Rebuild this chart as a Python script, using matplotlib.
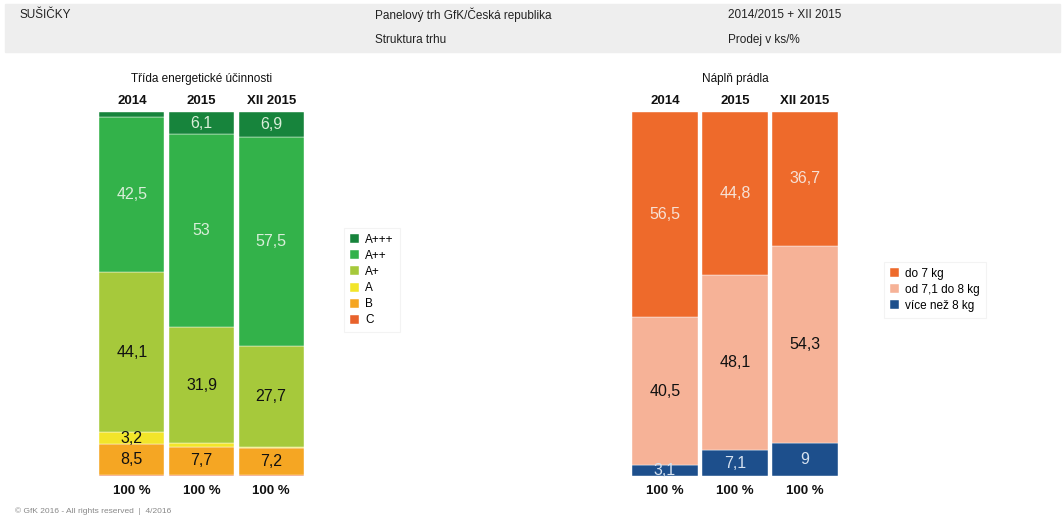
import matplotlib.pyplot as plt
from matplotlib.patches import Rectangle
import numpy as np

plt.rcParams['font.family'] = ['Liberation Sans', 'DejaVu Sans']

years = ['2014', '2015', 'XII 2015']

# energeticka trida (od spodu nahoru)
eff_classes = ['C', 'B', 'A', 'A+', 'A++', 'A+++']
eff_values = {
    'C':    [0.3, 0.4, 0.4],
    'B':    [8.5, 7.7, 7.2],
    'A':    [3.2, 0.9, 0.3],
    'A+':   [44.1, 31.9, 27.7],
    'A++':  [42.5, 53.0, 57.5],
    'A+++': [1.4, 6.1, 6.9],
}
eff_labels = {
    'B':    ['8,5', '7,7', '7,2'],
    'A':    ['3,2', '', ''],
    'A+':   ['44,1', '31,9', '27,7'],
    'A++':  ['42,5', '53', '57,5'],
    'A+++': ['', '6,1', '6,9'],
}
eff_colors = {'C': '#e8622c', 'B': '#f5a623', 'A': '#f2e52a', 'A+': '#a6c93b',
              'A++': '#33b24a', 'A+++': '#17843c'}
eff_txt = {'B': '#111111', 'A': '#111111', 'A+': '#111111', 'A++': '#d9eed9', 'A+++': '#d9eed9'}

# napln pradla (od spodu nahoru)
load_classes = ['více než 8 kg', 'od 7,1 do 8 kg', 'do 7 kg']
load_values = {
    'více než 8 kg':  [3.1, 7.1, 9.0],
    'od 7,1 do 8 kg': [40.5, 48.1, 54.3],
    'do 7 kg':        [56.5, 44.8, 36.7],
}
load_labels = {
    'více než 8 kg':  ['3,1', '7,1', '9'],
    'od 7,1 do 8 kg': ['40,5', '48,1', '54,3'],
    'do 7 kg':        ['56,5', '44,8', '36,7'],
}
load_colors = {'do 7 kg': '#ee6a2b', 'od 7,1 do 8 kg': '#f6b297', 'více než 8 kg': '#1d4f8c'}
load_txt = {'do 7 kg': '#f7e0d4', 'od 7,1 do 8 kg': '#111111', 'více než 8 kg': '#d6e2f0'}

W, H = 1064, 520
fig = plt.figure(figsize=(W / 100, H / 100), dpi=100)


def px(x, y):
    return x / W, 1 - y / H


# hlavicka
fig.patches.append(Rectangle((5 / W, 1 - 52 / H), 1055 / W, 48 / H,
                             transform=fig.transFigure, color='#eeeeee', zorder=0))
hdr = dict(fontsize=8.5, color='#222222', va='center', ha='left')
fig.text(*px(20, 15), 'SUŠIČKY', **hdr)
fig.text(*px(375, 15), 'Panelový trh GfK/Česká republika', **hdr)
fig.text(*px(728, 15), '2014/2015 + XII 2015', **hdr)
fig.text(*px(375, 40), 'Struktura trhu', **hdr)
fig.text(*px(728, 40), 'Prodej v ks/%', **hdr)
fig.text(*px(15, 511), '© GfK 2016 - All rights reserved  |  4/2016', fontsize=6, color='#888888',
         va='center', ha='left')


def stacked(x0, x1, title, classes, values, labels, colors, txtcol, leg_pos, leg_order):
    ax = fig.add_axes([x0 / W, 44 / H, (x1 - x0) / W, 364 / H])
    x = np.arange(len(years))
    bottom = np.zeros(len(years))
    handles = {}
    for c in classes:
        v = np.array(values[c])
        bars = ax.bar(x, v, 0.93, bottom=bottom, color=colors[c], edgecolor='#ffffff', linewidth=0.3)
        handles[c] = bars
        if c in labels:
            for i, lab in enumerate(labels[c]):
                if lab:
                    ax.text(x[i], bottom[i] + v[i] / 2, lab, ha='center', va='center',
                            fontsize=11.5, color=txtcol[c])
        bottom += v
    ax.set_xlim(-0.5, len(years) - 0.5)
    ax.set_ylim(0, 100)
    ax.axis('off')
    for i, y in enumerate(years):
        ax.text(x[i], 101.5, y, ha='center', va='bottom', fontsize=9.5, color='#111111',
                fontweight='bold')
        ax.text(x[i], -2.5, '100 %', ha='center', va='top', fontsize=9.5, color='#111111',
                fontweight='bold')
    ax.text(1, 107.5, title, ha='center', va='bottom', fontsize=8.5, color='#111111')
    leg = fig.legend([handles[c] for c in leg_order], leg_order, loc='upper left',
                     bbox_to_anchor=px(*leg_pos), frameon=True, fontsize=8.5,
                     handlelength=0.8, handleheight=0.8, handletextpad=0.5,
                     labelspacing=0.35, borderpad=0.5, fancybox=False)
    leg.get_frame().set_edgecolor('#f0f0f0')
    leg.get_frame().set_linewidth(0.8)


stacked(97, 306, 'Třída energetické účinnosti', eff_classes, eff_values, eff_labels,
        eff_colors, eff_txt, (338, 222), eff_classes[::-1])
stacked(630, 840, 'Náplň prádla', load_classes, load_values, load_labels,
        load_colors, load_txt, (878, 256), load_classes[::-1])

fig.savefig('out.png', dpi=100)
